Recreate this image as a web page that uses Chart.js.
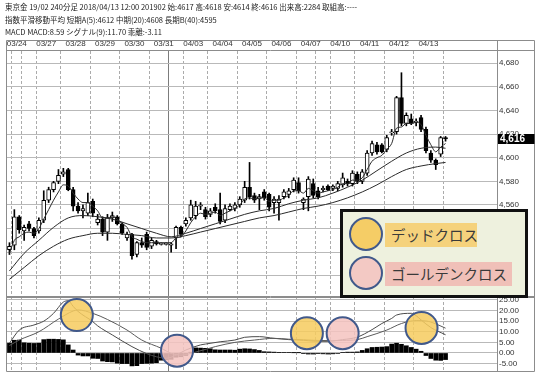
<!DOCTYPE html>
<html lang="ja"><head><meta charset="utf-8">
<script src="https://cdn.jsdelivr.net/npm/chart.js@4.4.1/dist/chart.umd.min.js"></script>
<style>
html,body{margin:0;padding:0;background:#fff;}
body{width:546px;height:380px;position:relative;overflow:hidden;}
#hdr{position:absolute;left:5px;top:1px;z-index:3;font-family:"Noto Sans CJK JP",sans-serif;font-size:7.5px;line-height:12.5px;color:#222;white-space:nowrap;}
#c1,#c2{position:absolute;left:0;}
#c1{top:0;} #c2{top:297px;}
#legend{position:absolute;left:340px;top:209px;width:188px;height:89px;box-sizing:border-box;border:3px solid #111;background:#eef1de;z-index:5;}
.circ{position:absolute;width:34px;height:34px;border-radius:50%;box-sizing:border-box;border:2px solid #41598b;}
.lab{position:absolute;height:24px;line-height:24px;font-family:"Noto Sans CJK JP",sans-serif;font-size:14.5px;color:#3a3a3a;padding-left:6px;box-sizing:border-box;white-space:nowrap;}
</style></head><body>
<div id="hdr">東京金 19/02 240分足 2018/04/13 12:00 201902 始:4617 高:4618 安:4614 終:4616 出来高:2284 取組高:----<br>指数平滑移動平均 短期A(5):4612 中期(20):4608 長期B(40):4595<br>MACD MACD:8.59 シグナル(9):11.70 乖離:-3.11</div>
<canvas id="c1" width="546" height="298"></canvas>
<canvas id="c2" width="546" height="83"></canvas>
<div id="legend">
  <div class="circ" style="left:5.5px;top:5px;background:#f5cd66"></div>
  <div class="lab" style="left:42px;top:10.5px;width:92px;background:#f5d27c">デッドクロス</div>
  <div class="circ" style="left:5.5px;top:43.5px;background:#f3c9c4"></div>
  <div class="lab" style="left:42px;top:49.5px;width:127px;background:#f0c0b8">ゴールデンクロス</div>
</div>
<script>
// ---------- data ----------
const dateLabels = ['03/24','','03/27','03/28','03/29','03/30','03/31','','04/03','04/04','04/05','04/06','04/07','','04/10','04/11','04/12','04/13'];
const dayStarts  = [2,4,8,14,20,26,32,34,38,44,50,56,62,64,68,74,80,86];
const monthStart = 34;
const slotCount = 100;
const priceTicks = [4500,4520,4540,4560,4580,4600,4620,4640,4660,4680];
const macdTicks = [-5,0,5,10,15,20,25];

const open = [4522,4526,4550,4538,4544,4540,4538,4547,4564,4573,
  4580,4586,4590,4573,4559,4555,4553,4563,4545,4548,
  4537,4549,4550,4544,4532,4535,4518,4528,4535,4525,
  4529,4527,4527,4526,4532,4541,4544,4549,4551,4559,
  4556,4552,4558,4556,4547,4556,4557,4560,4564,4575,
  4568,4565,4571,4569,4562,4562,4567,4569,4573,4579,
  4562,4567,4578,4572,4573,4576,4574,4574,4577,4580,
  4578,4586,4580,4587,4604,4611,4611,4607,4621,4622,
  4651,4629,4633,4630,4634,4624,4604,4598,4603,4617];
const high = [4528,4556,4551,4543,4546,4541,4549,4572,4575,4580,
  4590,4591,4591,4575,4562,4560,4570,4565,4552,4550,
  4552,4554,4551,4545,4537,4536,4529,4532,4537,4532,
  4530,4528,4528,4528,4542,4542,4549,4564,4563,4562,
  4558,4557,4561,4570,4560,4561,4562,4567,4580,4596,
  4570,4569,4573,4570,4567,4568,4573,4574,4583,4583,
  4566,4584,4582,4575,4576,4577,4577,4580,4587,4582,
  4589,4588,4590,4606,4614,4613,4612,4619,4624,4652,
  4672,4638,4637,4633,4636,4626,4606,4599,4618,4618];
const low = [4518,4522,4536,4530,4538,4532,4536,4545,4562,4571,
  4578,4584,4572,4555,4553,4549,4551,4550,4543,4534,
  4530,4546,4543,4535,4530,4514,4516,4524,4522,4523,
  4526,4526,4526,4520,4523,4533,4542,4547,4548,4556,
  4548,4550,4553,4544,4545,4555,4555,4558,4562,4565,
  4562,4556,4564,4555,4553,4547,4565,4566,4571,4570,
  4556,4555,4566,4565,4571,4572,4572,4572,4575,4576,
  4576,4578,4578,4585,4602,4603,4604,4605,4619,4620,
  4627,4627,4628,4627,4622,4604,4596,4590,4601,4614];
const close = [4525,4550,4539,4541,4540,4534,4547,4564,4573,4579,
  4585,4588,4573,4559,4555,4557,4562,4553,4548,4537,
  4549,4551,4544,4536,4535,4517,4528,4526,4524,4530,
  4527,4527,4527,4527,4541,4535,4547,4560,4559,4560,
  4550,4555,4555,4546,4557,4559,4560,4565,4575,4567,
  4564,4567,4566,4558,4565,4565,4571,4572,4581,4572,
  4565,4582,4568,4567,4574,4573,4576,4578,4583,4578,
  4587,4580,4588,4604,4612,4605,4605,4617,4622,4651,
  4629,4636,4629,4631,4624,4606,4598,4594,4617,4616];

const ema5 = [4519,4530,4533,4536,4537,4536,4540,4548,4556,4564,
  4571,4577,4576,4570,4565,4562,4562,4559,4555,4549,
  4549,4550,4548,4544,4541,4533,4531,4529,4528,4528,
  4528,4528,4528,4528,4532,4533,4538,4545,4550,4553,
  4552,4553,4554,4551,4553,4555,4557,4560,4565,4566,
  4565,4566,4566,4563,4564,4564,4566,4568,4572,4572,
  4570,4574,4572,4570,4571,4572,4573,4575,4578,4578,
  4581,4581,4583,4590,4597,4600,4602,4607,4612,4625,
  4626,4629,4629,4630,4628,4619,4611,4605,4609,4612];
const emaAt = [0,3,6,9,12,15,18,21,24,27,30,33,36,39,42,45,48,51,54,57,60,63,66,69,72,75,78,81,84,87,89];
const ema20 = [4504,4519,4530,4541,4549,4551,4550,4548,4544,4540,4536,4533,4536,4540,4544,4548,4552,4555,4557,4561,4564,4566,4570,4575,4581,4589,4597,4604,4608,4609,4608];
const ema40 = [4497,4507,4517,4525,4531,4534,4536,4536,4535,4534,4532,4532,4534,4537,4540,4543,4546,4549,4551,4554,4557,4559,4562,4566,4571,4577,4584,4590,4593,4595,4596];

const macdAt = [0,2,5,7,9,11,12,13,14,17,18,21,25,28,30,32,34,36,39,40,43,46,48,51,54,57,60,62,65,68,71,74,76,78,79,82,83,84,86,89];
const macd = [4.6,10.8,13.2,15.0,18.7,24.0,24.6,22.0,19.6,14.8,12.8,8.5,3.0,-0.3,-1.8,-2.5,-1.0,1.4,3.8,4.2,5.3,6.1,7.4,7.7,6.9,6.3,6.0,5.6,5.5,6.3,7.5,11.0,13.9,16.3,17.9,18.7,17.6,15.6,12.0,8.59];
const signalAt = [0,2,6,10,13,14,17,20,24,27,31,33,35,37,42,46,50,54,57,60,63,66,68,71,73,77,80,83,85,86,89];
const signal = [3.5,6.1,10.0,16.0,19.8,20.3,18.7,15.8,10.8,6.1,2.2,-0.2,-1.0,-0.2,3.0,5.0,6.1,6.9,6.5,6.2,5.9,5.8,5.9,6.3,7.7,10.8,13.9,15.3,15.1,14.6,11.7];
const hist = [4.6,6.0,6.1,4.8,4.6,4.5,4.6,6.3,6.5,6.5,
  6.4,6.2,3.8,1.4,-1.0,-1.4,-1.4,-2.5,-2.6,-3.8,
  -4.1,-4.2,-4.8,-5.0,-5.0,-6.1,-6.0,-5.0,-4.9,-4.8,
  -4.6,-3.4,-3.2,-3.0,-2.0,-1.8,-1.2,0.4,2.4,2.3,
  2.2,2.0,1.5,1.4,1.4,1.4,1.3,1.8,2.0,1.9,
  1.6,1.2,0.6,0.5,0.4,0.3,0.2,0.2,0.1,0.1,
  -0.3,-0.5,-0.5,-0.3,-0.4,-0.5,-0.4,-0.2,0.2,0.4,
  0.4,0.5,1.2,2.0,2.6,2.7,2.8,3.0,4.2,4.6,
  4.1,3.4,2.6,1.8,0.8,-1.2,-2.6,-3.4,-3.5,-3.11];

const crossAt = [14.25,34.7,61.2,68.5,84.6];
const crossValue = [17.9,1.1,9.3,9.3,11.8];
const crossKind = ['dead','golden','dead','golden','dead'];

// ---------- build ----------
Chart.defaults.animation = false;
const tickFont = {family:'"Liberation Sans", Arial, sans-serif', size:8};
const xs = i => i + 0.5;
const idx = open.map((_, i) => i);
const pts = (at, vals) => at.map((a, k) => ({x: xs(a), y: vals[k]}));

const wickData = idx.map(i => ({x: xs(i), y: [low[i], high[i]]}));
const bodyData = idx.map(i => {
  const lo = Math.min(open[i], close[i]), hi = Math.max(open[i], close[i]);
  return {x: xs(i), y: hi - lo < 0.8 ? [lo - 0.4, hi + 0.4] : [lo, hi]};
});
const bodyColor = idx.map(i => close[i] >= open[i] ? '#ffffff' : '#000000');

const isMonth = c => c.index !== undefined && dayStarts[c.index] === monthStart;
function xScale(pos, showLabels, h) {
  return {
    type:'linear', position:pos, min:0, max:slotCount, offset:false,
    afterBuildTicks: s => { s.ticks = dayStarts.map(v => ({value:v})); },
    afterFit: s => { s.height = h; s.paddingLeft = 0; s.paddingRight = 0; },
    grid: { color: c => isMonth(c) ? '#7c7c7c' : '#ababab', lineWidth:1, drawTicks:false },
    border: { display:false, dash: c => isMonth(c) ? [] : [3,2] },
    ticks: { display:showLabels, autoSkip:false, maxRotation:0, padding:2, color:'#333', font:tickFont,
             callback: (v, i) => dateLabels[i] }
  };
}
function yScale(min, max, tv, fmt) {
  return {
    position:'right', min, max,
    afterBuildTicks: s => { s.ticks = tv.map(v => ({value:v})); },
    afterFit: s => { s.width = 38; s.paddingTop = 0; s.paddingBottom = 0; },
    grid: { color:'#b9b9b9', lineWidth:1, drawTicks:false },
    border: { display:false },
    ticks: { autoSkip:false, padding:2, color:'#333', font:tickFont, callback: fmt }
  };
}

const frameMain = {
  id:'frameMain',
  afterDraw(chart) {
    const {ctx, chartArea:a} = chart;
    const yS = chart.scales.y, xS = chart.scales.x;
    const L = a.left - 0.5, R = yS.right - 0.5, P = a.right + 0.5, T = xS.top + 0.5, D = a.top - 0.5, B = a.bottom - 0.5, H = chart.height;
    ctx.save();
    ctx.strokeStyle = '#8c8c8c'; ctx.lineWidth = 1; ctx.setLineDash([]);
    ctx.beginPath();
    ctx.moveTo(L, H); ctx.lineTo(L, T); ctx.lineTo(R, T); ctx.lineTo(R, H);
    ctx.moveTo(L, D); ctx.lineTo(R, D);
    ctx.moveTo(P, T); ctx.lineTo(P, H);
    ctx.moveTo(L, B); ctx.lineTo(R, B);
    ctx.stroke();
    const last = close[close.length - 1];
    const py = Math.round(yS.getPixelForValue(last));
    ctx.fillStyle = '#000';
    ctx.fillRect(a.right + 1, py - 5, yS.right - a.right - 1.5, 10);
    ctx.fillStyle = '#fff';
    ctx.font = 'bold 10px "Liberation Sans", Arial, sans-serif';
    ctx.textBaseline = 'middle'; ctx.textAlign = 'left';
    ctx.fillText(last.toLocaleString('en-US'), a.right + 3, py + 0.5);
    ctx.restore();
  }
};
const frameSub = {
  id:'frameSub',
  afterDraw(chart) {
    const {ctx, chartArea:a} = chart;
    const yS = chart.scales.y;
    const L = a.left - 0.5, R = yS.right - 0.5, P = a.right + 0.5, T = a.top + 0.5, B = a.bottom + 0.5;
    ctx.save();
    ctx.strokeStyle = '#8c8c8c'; ctx.lineWidth = 1; ctx.setLineDash([]);
    ctx.beginPath();
    ctx.moveTo(L, T); ctx.lineTo(R, T);
    ctx.moveTo(L, T); ctx.lineTo(L, B); ctx.lineTo(R, B); ctx.lineTo(R, T);
    ctx.moveTo(P, T); ctx.lineTo(P, B);
    ctx.stroke();
    ctx.restore();
  }
};

const lineDs = (data, color, order) => ({
  type:'line', data, borderColor:color, borderWidth:1, pointRadius:0,
  cubicInterpolationMode:'monotone', order
});

new Chart(document.getElementById('c1'), {
  type:'bar',
  data:{ datasets:[
    { data:wickData, backgroundColor:'#000', barThickness:1, maxBarThickness:1, grouped:false, order:4 },
    { data:bodyData, backgroundColor:bodyColor, borderColor:'#000', borderWidth:1, borderSkipped:false,
      barThickness:4, maxBarThickness:4, grouped:false, order:3 },
    lineDs(pts(emaAt, ema40), '#2a2a2a', 1),
    lineDs(pts(emaAt, ema20), '#2a2a2a', 1),
    lineDs(idx.map(i => ({x: xs(i), y: ema5[i]})), '#2a2a2a', 1)
  ]},
  options:{
    responsive:false, events:[],
    layout:{ autoPadding:false, padding:{left:7, right:11, top:40, bottom:1} },
    plugins:{ legend:{display:false}, tooltip:{enabled:false} },
    scales:{
      x: xScale('top', true, 11),
      y: yScale(4482, 4690.4, priceTicks, v => v.toLocaleString('en-US'))
    }
  },
  plugins:[frameMain]
});

new Chart(document.getElementById('c2'), {
  type:'bar',
  data:{ datasets:[
    { type:'bubble', data: crossAt.map((a, k) => ({x:a, y:crossValue[k]})),
      backgroundColor: crossKind.map(k => k === 'dead' ? 'rgba(246,204,96,0.86)' : 'rgba(245,196,192,0.86)'),
      borderColor:'#41598b', borderWidth:2, radius:16, order:0 },
    { data: idx.map(i => ({x: xs(i), y: hist[i]})), backgroundColor:'#000', barThickness:4, maxBarThickness:4, grouped:false, order:3 },
    lineDs(pts(signalAt, signal), '#5a5a5a', 2),
    lineDs(pts(macdAt, macd), '#4a4a4a', 2)
  ]},
  options:{
    responsive:false, events:[],
    layout:{ autoPadding:false, padding:{left:7, right:11, top:0, bottom:9} },
    plugins:{ legend:{display:false}, tooltip:{enabled:false} },
    scales:{
      x: xScale('bottom', false, 0),
      y: yScale(-8.5, 26.4, macdTicks, v => v.toFixed(2))
    }
  },
  plugins:[frameSub]
});
</script>
</body></html>
